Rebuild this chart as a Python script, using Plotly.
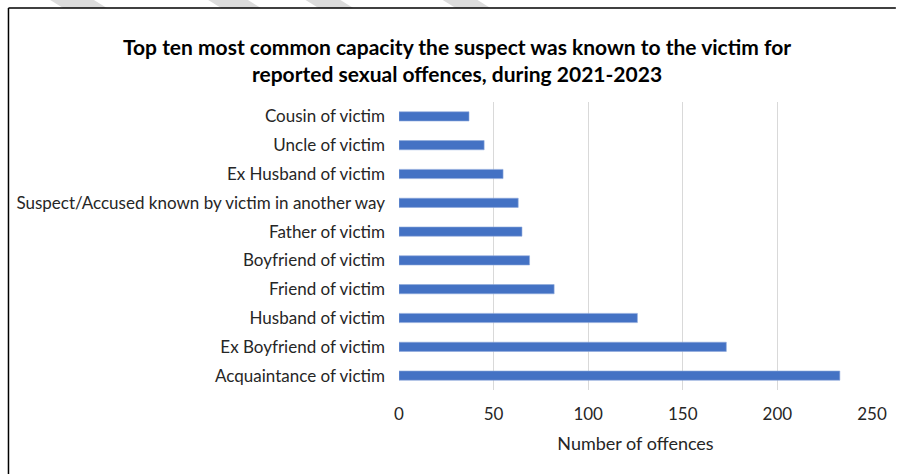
import plotly.graph_objects as go

# bottom to top, as in the chart
categories = ['Acquaintance of victim', 'Ex Boyfriend of victim', 'Husband of victim',
              'Friend of victim', 'Boyfriend of victim', 'Father of victim',
              'Suspect/Accused known by victim in another way', 'Ex Husband of victim',
              'Uncle of victim', 'Cousin of victim']
offences = [233, 173, 126, 82, 69, 65, 63, 55, 45, 37]
x_ticks = [0, 50, 100, 150, 200, 250]

W, H = 899, 474
L, R, T, B = 399, 24, 102, 84
pw, ph = W - L - R, H - T - B


def px(x):
    return (x - L) / pw


def py(y):
    return (H - B - y) / ph


fig = go.Figure(go.Bar(
    y=categories, x=offences, orientation='h',
    marker=dict(color='#4472C4', line=dict(color='#8eaadb', width=0.6)),
    hoverinfo='x+y'))

shapes = []
# faint watermark strokes peeking above the frame
for a, b in [(48, 92), (207, 247), (305, 340), (443, 478)]:
    path = (f'M {px(a)} {py(0)} L {px(b)} {py(0)} '
            f'L {px(b + 13)} {py(8)} L {px(a + 13)} {py(8)} Z')
    shapes.append(dict(type='path', path=path, xref='paper', yref='paper',
                       fillcolor='#dcdcdc', line=dict(width=0), layer='below'))
# frame around the chart (only left and top edges are in view)
frame_line = dict(color='black', width=1.5)
shapes.append(dict(type='line', xref='paper', yref='paper',
                   x0=px(6), x1=px(6), y0=py(H), y1=py(8), line=frame_line))
shapes.append(dict(type='line', xref='paper', yref='paper',
                   x0=px(6), x1=px(W), y0=py(8), y1=py(8), line=frame_line))

fig.update_layout(
    width=W, height=H,
    margin=dict(l=L, r=R, t=T, b=B),
    paper_bgcolor='white', plot_bgcolor='white',
    font=dict(family='Lato, sans-serif', size=17, color='#262626'),
    title=dict(text='Top ten most common capacity the suspect was known to the victim for<br>'
                    'reported sexual offences, during 2021-2023',
               x=457 / W, xanchor='center', y=1 - 54.5 / H, yanchor='middle',
               font=dict(family='Lato, sans-serif', size=21, color='black', weight='bold')),
    bargap=0.68,
    showlegend=False,
    shapes=shapes,
)
fig.update_xaxes(range=[0, 250], tickvals=x_ticks, showgrid=True, gridcolor='#d9d9d9',
                 gridwidth=1, zeroline=False, showline=False, ticks='',
                 ticklabelstandoff=12,
                 title=dict(text='Number of offences', font=dict(size=18), standoff=14))
fig.update_yaxes(showgrid=False, zeroline=False, showline=False, ticks='',
                 ticklabelstandoff=13)

fig.write_html("out.html", config={'displayModeBar': False},
               post_script="document.body.style.margin = '0';"
                           "document.body.style.overflow = 'hidden';"
                           "document.documentElement.style.overflow = 'hidden';")
